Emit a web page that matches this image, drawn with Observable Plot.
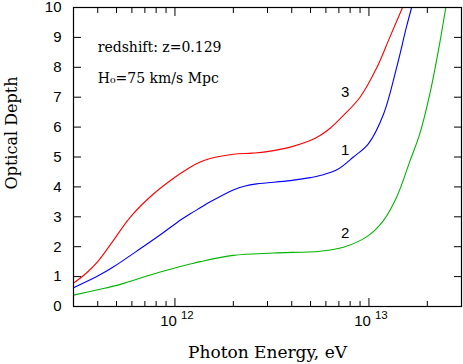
<!DOCTYPE html>
<html><head><meta charset="utf-8">
<script src="https://cdn.jsdelivr.net/npm/d3@7"></script>
<script src="https://cdn.jsdelivr.net/npm/@observablehq/plot@0.6"></script>
<style>body{margin:0;background:#fff}</style>
</head><body><div id="chart"></div>
<script>
// Curve 3 (red)
const energy3 = [3.0e11, 3.5e11, 4.0e11, 4.83e11, 5.89e11, 7.77e11, 1.03e12, 1.20e12, 1.35e12, 1.52e12, 2.0e12, 2.5e12, 2.98e12, 3.93e12, 4.98e12, 5.6e12, 6.31e12, 7.39e12, 9.0e12, 1.10e13, 1.28e13, 1.49e13];
const tau3    = [0.78, 1.12, 1.50, 2.22, 2.99, 3.77, 4.38, 4.66, 4.83, 4.95, 5.09, 5.13, 5.18, 5.33, 5.55, 5.72, 5.96, 6.39, 7.0, 8.0, 9.0, 10.0];
// Curve 1 (blue)
const energy1 = [3.0e11, 4.0e11, 4.83e11, 6.38e11, 8.41e11, 1.03e12, 1.20e12, 1.35e12, 1.52e12, 2.0e12, 2.3e12, 2.64e12, 3.93e12, 4.98e12, 5.6e12, 6.83e12, 8.32e12, 9.93e12, 1.19e13, 1.39e13, 1.56e13, 1.66e13];
const tau1    = [0.63, 1.02, 1.33, 1.86, 2.40, 2.82, 3.10, 3.30, 3.50, 3.90, 4.03, 4.10, 4.21, 4.31, 4.38, 4.57, 5.0, 5.44, 6.44, 8.0, 9.34, 10.0];
// Curve 2 (green)
const energy2 = [3.0e11, 4.0e11, 5.23e11, 7.77e11, 1.03e12, 1.20e12, 1.35e12, 2.0e12, 3.22e12, 5.6e12, 7.39e12, 9.93e12, 1.19e13, 1.39e13, 1.63e13, 1.83e13, 2.06e13, 2.28e13, 2.49e13];
const tau2    = [0.38, 0.56, 0.74, 1.09, 1.31, 1.42, 1.50, 1.71, 1.79, 1.85, 1.98, 2.37, 2.88, 3.66, 4.88, 5.78, 7.11, 8.56, 10.0];

const curveNames  = ["3", "1", "2"];
const curveColors = ["#ff0000", "#0000ff", "#00b400"];
const labelEnergy = [7.55e12, 7.55e12, 7.55e12];
const labelTau    = [7.16, 5.22, 2.44];

const yTicks = [0, 1, 2, 3, 4, 5, 6, 7, 8, 9, 10];
const xMajor = [1e12, 1e13];
const xMajorBase = ["10", "10"];
const xMajorExp = ["12", "13"];
const xMinor = [4e11, 5e11, 6e11, 7e11, 8e11, 9e11, 2e12, 3e12, 4e12, 5e12, 6e12, 7e12, 8e12, 9e12, 2e13];

const notes = ["redshift: z=0.129", "H\u2080=75 km/s Mpc"];
const noteEnergy = [4.0e11, 4.0e11];
const noteTau = [8.66, 7.62];

const rows = [];
[[energy3, tau3], [energy1, tau1], [energy2, tau2]].forEach(([E, T], k) => {
  E.forEach((e, i) => rows.push({series: curveNames[k], energy: e, tau: T[i]}));
});
const labels = curveNames.map((n, i) => ({name: n, energy: labelEnergy[i], tau: labelTau[i]}));
const noteRows = notes.map((t, i) => ({text: t, energy: noteEnergy[i], tau: noteTau[i]}));

const sans = "Liberation Sans, Arial, sans-serif";
const serif = "DejaVu Serif, serif";

const chart = Plot.plot({
  width: 463, height: 364,
  marginLeft: 73, marginRight: 2, marginTop: 7, marginBottom: 58,
  style: {fontFamily: sans, fontSize: "15px", background: "#fff", color: "#000"},
  x: {type: "log", domain: [3e11, 3e13]},
  y: {domain: [0, 10]},
  color: {domain: curveNames, range: curveColors},
  marks: [
    Plot.line(rows, {x: "energy", y: "tau", z: "series", stroke: "series", strokeWidth: 1.1, curve: "catmull-rom"}),
    Plot.frame({stroke: "#000", strokeWidth: 1.2}),
    Plot.axisY({ticks: yTicks, tickSize: -8, tickPadding: 20, fontSize: 15, fontFamily: sans, label: null, tickFormat: d => String(d)}),
    Plot.axisY({anchor: "right", ticks: yTicks, tickSize: -8, tickFormat: () => "", label: null}),
    Plot.axisX({ticks: xMinor, tickSize: -5, tickFormat: () => "", label: null}),
    Plot.axisX({ticks: xMajor, tickSize: -8, tickFormat: () => "", label: null}),
    Plot.axisX({anchor: "top", ticks: xMinor, tickSize: -5, tickFormat: () => "", label: null}),
    Plot.axisX({anchor: "top", ticks: xMajor, tickSize: -8, tickFormat: () => "", label: null}),
    Plot.text(xMajor, {x: d => d, text: (d, i) => xMajorBase[i], frameAnchor: "bottom", lineAnchor: "middle", dy: 15, dx: 2, textAnchor: "end", fontSize: 15, fontFamily: sans}),
    Plot.text(xMajor, {x: d => d, text: (d, i) => xMajorExp[i], frameAnchor: "bottom", lineAnchor: "middle", dy: 9, dx: 6, textAnchor: "start", fontSize: 11.5, fontFamily: sans}),
    Plot.text(labels, {x: "energy", y: "tau", text: "name", fontSize: 15, fontFamily: sans, fill: "#000"}),
    Plot.text(noteRows, {x: "energy", y: "tau", text: "text", textAnchor: "start", fontSize: 14, fontFamily: serif, fill: "#000"}),
    Plot.text(["Photon Energy, eV"], {frameAnchor: "bottom", lineAnchor: "middle", textAnchor: "middle", dy: 46, fontSize: 17, fontFamily: serif, fill: "#000"}),
    Plot.text(["Optical Depth"], {frameAnchor: "left", textAnchor: "middle", lineAnchor: "middle", dx: -62, dy: -24, rotate: -90, fontSize: 16, fontFamily: serif, fill: "#000"})
  ]
});
document.getElementById("chart").appendChild(chart);
</script>
</body></html>
